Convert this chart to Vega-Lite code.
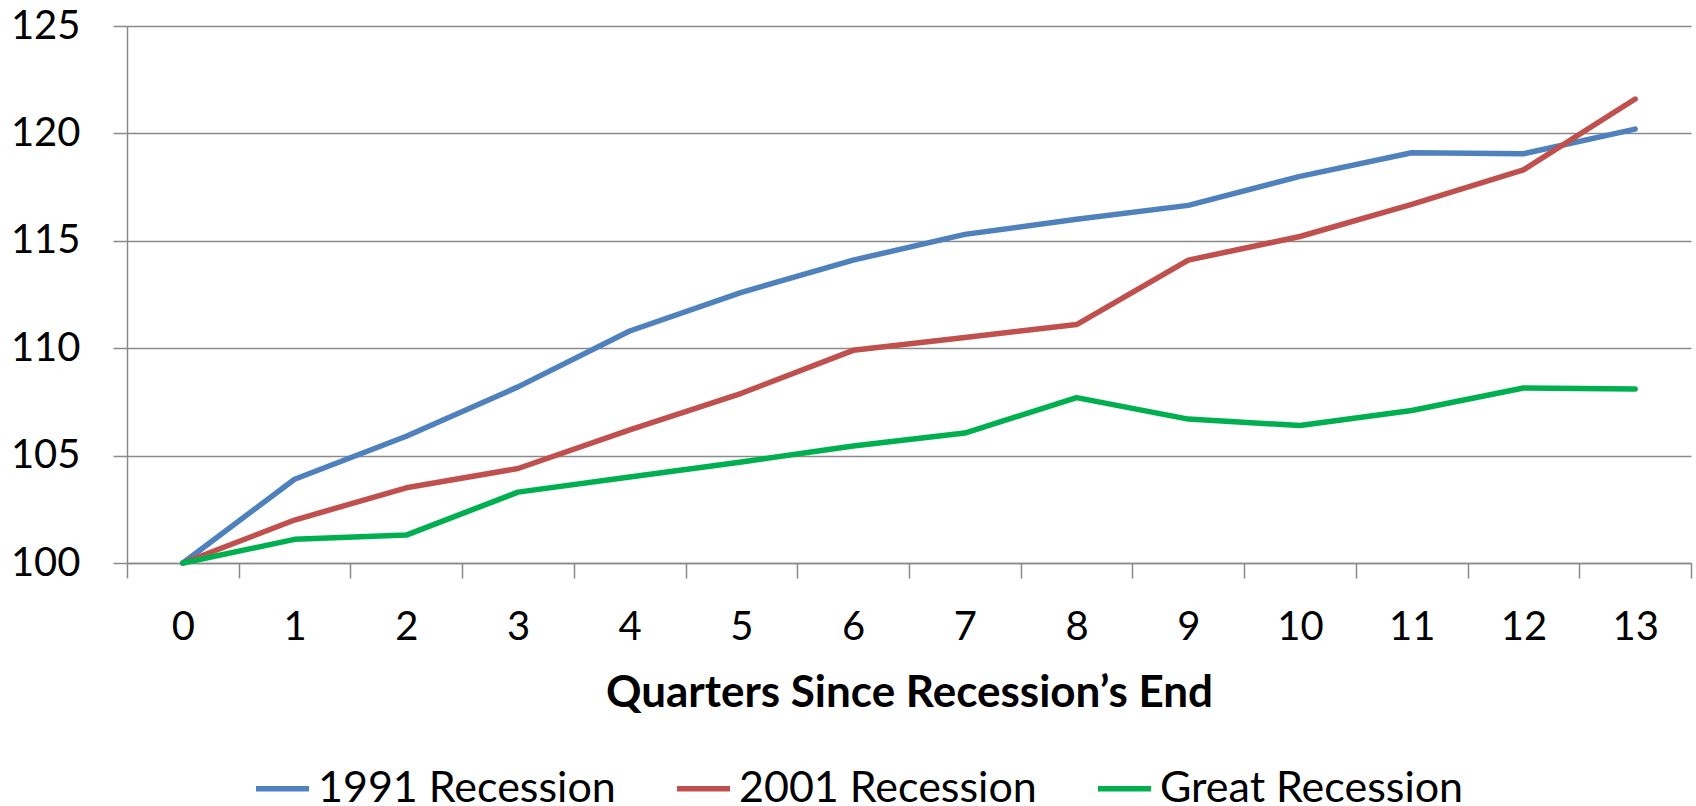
{
  "$schema": "https://vega.github.io/schema/vega-lite/v6.json",
  "autosize": "none",
  "padding": {"left": 127, "top": 26, "right": 5, "bottom": 243},
  "width": 1564,
  "height": 537,
  "background": "white",
  "config": {
    "view": {"stroke": null},
    "font": "Lato"
  },
  "data": {
    "values": [
      {"q": 0, "series": "1991 Recession", "value": 100},
      {"q": 1, "series": "1991 Recession", "value": 103.9},
      {"q": 2, "series": "1991 Recession", "value": 105.9},
      {"q": 3, "series": "1991 Recession", "value": 108.2},
      {"q": 4, "series": "1991 Recession", "value": 110.8},
      {"q": 5, "series": "1991 Recession", "value": 112.6},
      {"q": 6, "series": "1991 Recession", "value": 114.1},
      {"q": 7, "series": "1991 Recession", "value": 115.3},
      {"q": 8, "series": "1991 Recession", "value": 116.0},
      {"q": 9, "series": "1991 Recession", "value": 116.65},
      {"q": 10, "series": "1991 Recession", "value": 118.0},
      {"q": 11, "series": "1991 Recession", "value": 119.1},
      {"q": 12, "series": "1991 Recession", "value": 119.05},
      {"q": 13, "series": "1991 Recession", "value": 120.2},
      {"q": 0, "series": "2001 Recession", "value": 100},
      {"q": 1, "series": "2001 Recession", "value": 102.0},
      {"q": 2, "series": "2001 Recession", "value": 103.5},
      {"q": 3, "series": "2001 Recession", "value": 104.4},
      {"q": 4, "series": "2001 Recession", "value": 106.2},
      {"q": 5, "series": "2001 Recession", "value": 107.9},
      {"q": 6, "series": "2001 Recession", "value": 109.9},
      {"q": 7, "series": "2001 Recession", "value": 110.5},
      {"q": 8, "series": "2001 Recession", "value": 111.1},
      {"q": 9, "series": "2001 Recession", "value": 114.1},
      {"q": 10, "series": "2001 Recession", "value": 115.2},
      {"q": 11, "series": "2001 Recession", "value": 116.7},
      {"q": 12, "series": "2001 Recession", "value": 118.3},
      {"q": 13, "series": "2001 Recession", "value": 121.6},
      {"q": 0, "series": "Great Recession", "value": 100},
      {"q": 1, "series": "Great Recession", "value": 101.1},
      {"q": 2, "series": "Great Recession", "value": 101.3},
      {"q": 3, "series": "Great Recession", "value": 103.3},
      {"q": 4, "series": "Great Recession", "value": 104.0},
      {"q": 5, "series": "Great Recession", "value": 104.7},
      {"q": 6, "series": "Great Recession", "value": 105.45},
      {"q": 7, "series": "Great Recession", "value": 106.05},
      {"q": 8, "series": "Great Recession", "value": 107.7},
      {"q": 9, "series": "Great Recession", "value": 106.7},
      {"q": 10, "series": "Great Recession", "value": 106.4},
      {"q": 11, "series": "Great Recession", "value": 107.1},
      {"q": 12, "series": "Great Recession", "value": 108.15},
      {"q": 13, "series": "Great Recession", "value": 108.1}
    ]
  },
  "mark": {"type": "line", "strokeWidth": 5.5, "strokeCap": "round", "strokeJoin": "round"},
  "encoding": {
    "x": {
      "field": "q",
      "type": "ordinal",
      "bandPosition": 0.5,
      "scale": {"type": "band", "paddingInner": 0, "paddingOuter": 0},
      "axis": {
        "title": "Quarters Since Recession’s End",
        "labelAngle": 0,
        "tickBand": "extent",
        "grid": false,
        "domainColor": "#8a8a8a",
        "domainWidth": 1.5,
        "tickColor": "#8a8a8a",
        "tickWidth": 1.5,
        "tickSize": 15,
        "labelFont": "Lato",
        "labelFontSize": 40,
        "labelColor": "#000000",
        "labelPadding": 29,
        "titleFont": "Lato",
        "titleFontSize": 44,
        "titleFontWeight": "bold",
        "titleColor": "#000000",
        "titlePadding": 24
      }
    },
    "y": {
      "field": "value",
      "type": "quantitative",
      "scale": {"domain": [100, 125], "nice": false, "zero": false},
      "axis": {
        "title": null,
        "values": [100, 105, 110, 115, 120, 125],
        "grid": true,
        "gridColor": "#8a8a8a",
        "gridWidth": 1.5,
        "domainColor": "#8a8a8a",
        "domainWidth": 1.5,
        "tickColor": "#8a8a8a",
        "tickWidth": 1.5,
        "tickSize": 14,
        "labelFont": "Lato",
        "labelFontSize": 40,
        "labelColor": "#000000",
        "labelPadding": 33
      }
    },
    "color": {
      "field": "series",
      "type": "nominal",
      "scale": {
        "domain": ["1991 Recession", "2001 Recession", "Great Recession"],
        "range": ["#4F81BD", "#C0504D", "#00B050"]
      },
      "legend": {
        "title": null,
        "orient": "none",
        "direction": "horizontal",
        "legendX": 126,
        "legendY": 733,
        "padding": 0,
        "symbolType": "stroke",
        "symbolSize": 2809,
        "symbolStrokeWidth": 5.5,
        "labelFont": "Lato",
        "labelFontSize": 43,
        "labelColor": "#000000",
        "labelOffset": 6,
        "columnPadding": 50,
        "labelLimit": 500
      }
    }
  }
}
